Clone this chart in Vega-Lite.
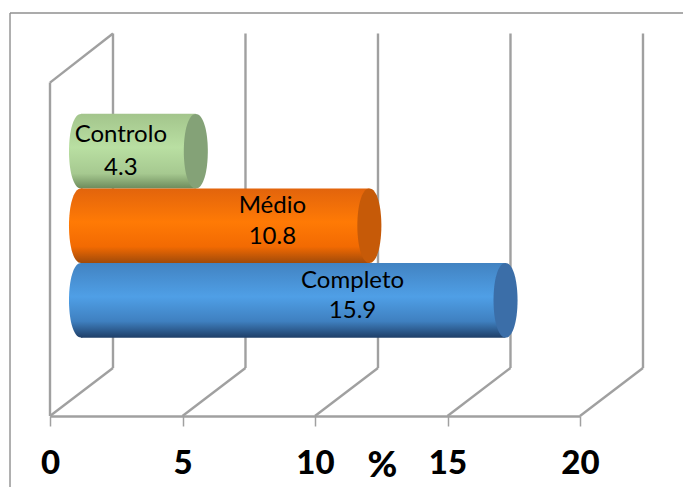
{
  "$schema": "https://vega.github.io/schema/vega-lite/v6.json",
  "width": 530,
  "height": 403,
  "padding": {"left": 50, "top": 13, "right": 103, "bottom": 71},
  "autosize": "none",
  "background": "white",
  "config": {"view": {"stroke": null}, "axisY": {"disable": true}},
  "datasets": {
    "ticks": [{"v": 0}, {"v": 5}, {"v": 10}, {"v": 15}, {"v": 20}],
    "grupos": [
      {"Grupo": "Controlo", "Valor": 4.3, "fila": 2},
      {"Grupo": "Médio", "Valor": 10.8, "fila": 1},
      {"Grupo": "Completo", "Valor": 15.9, "fila": 0}
    ]
  },
  "resolve": {"scale": {"x": "independent"}},
  "layer": [
    {
      "layer": [
        {
          "data": {"name": "ticks"},
          "mark": {"type": "rule", "opacity": 0},
          "encoding": {
            "x": {
              "field": "v",
              "type": "quantitative",
              "scale": {"domain": [0, 20], "nice": false},
              "axis": {
                "values": [0, 5, 10, 15, 20],
                "format": "d",
                "grid": false,
                "domainColor": "#a0a0a0",
                "domainWidth": 2.5,
                "tickColor": "#a0a0a0",
                "tickWidth": 1.5,
                "tickSize": 10,
                "labelFont": "Lato",
                "labelFontWeight": 900,
                "labelFontSize": 33,
                "labelColor": "black",
                "labelPadding": 21,
                "labelFlush": false,
                "labelOverlap": false,
                "title": "%",
                "titleFont": "Lato",
                "titleFontWeight": 900,
                "titleFontSize": 36,
                "titleColor": "black",
                "titleX": 332,
                "titleY": 32
              }
            },
            "y": {"datum": 0, "type": "quantitative", "scale": {"domain": [-1.55, 3.852], "nice": false}}
          }
        },
        {
          "description": "outer chart frame",
          "data": {"values": [{}]},
          "mark": {"type": "rule", "color": "#8f8f8f", "strokeWidth": 1.4},
          "encoding": {
            "x": {"datum": -1.509, "type": "quantitative"},
            "x2": {"datum": 23.89},
            "y": {"datum": 3.852, "type": "quantitative"}
          }
        },
        {
          "data": {"values": [{}]},
          "mark": {"type": "rule", "color": "#8f8f8f", "strokeWidth": 1.4},
          "encoding": {
            "x": {"datum": -1.509, "type": "quantitative"},
            "y": {"datum": 3.852, "type": "quantitative"},
            "y2": {"datum": -2.51}
          }
        },
        {
          "description": "left wall, front edge and top slant",
          "data": {"values": [{}]},
          "mark": {"type": "rule", "color": "#a0a0a0", "strokeWidth": 2.4},
          "encoding": {
            "x": {"datum": 0, "type": "quantitative"},
            "y": {"datum": -1.55, "type": "quantitative"},
            "y2": {"datum": 2.919}
          }
        },
        {
          "data": {"values": [{}]},
          "mark": {"type": "rule", "color": "#a0a0a0", "strokeWidth": 2.4},
          "encoding": {
            "x": {"datum": 0, "type": "quantitative"},
            "x2": {"datum": 2.377},
            "y": {"datum": 2.919, "type": "quantitative"},
            "y2": {"datum": 3.577}
          }
        },
        {
          "description": "back wall gridlines",
          "data": {"name": "ticks"},
          "transform": [{"calculate": "datum.v + 2.377", "as": "fundo"}],
          "mark": {"type": "rule", "color": "#a0a0a0", "strokeWidth": 2.4},
          "encoding": {
            "x": {"field": "fundo", "type": "quantitative"},
            "y": {"datum": -0.906, "type": "quantitative"},
            "y2": {"datum": 3.577}
          }
        },
        {
          "description": "floor slants",
          "data": {"name": "ticks"},
          "transform": [{"calculate": "datum.v + 2.377", "as": "fundo"}],
          "mark": {"type": "rule", "color": "#a0a0a0", "strokeWidth": 2.4},
          "encoding": {
            "x": {"field": "v", "type": "quantitative"},
            "x2": {"field": "fundo"},
            "y": {"datum": -1.55, "type": "quantitative"},
            "y2": {"datum": -0.906}
          }
        }
      ]
    },
    {
      "description": "cylinders: one gradient per group, then the shaded caps and the two-line labels",
      "data": {"name": "grupos"},
      "transform": [
        {"calculate": "datum.fila - 0.5", "as": "base"},
        {"calculate": "datum.fila + 0.5", "as": "topo"},
        {"calculate": "0", "as": "zero"},
        {"calculate": "datum.Grupo + '\\n' + format(datum.Valor, '.1f')", "as": "rotulo"}
      ],
      "encoding": {
        "x": {"field": "Valor", "type": "quantitative", "scale": {"domain": [-1.161, 18.689], "nice": false}, "axis": null},
        "y": {"field": "fila", "type": "quantitative"}
      },
      "layer": [
        {
          "transform": [{"filter": "datum.Grupo === 'Controlo'"}],
          "mark": {"type": "point", "filled": true, "opacity": 1, "size": 5550, "shape": "M0,-1 C-0.43,-1 -0.43,1 0,1 C0.43,1 0.43,-1 0,-1 Z",
            "fill": {"gradient": "linear", "x1": 0, "y1": 0, "x2": 0, "y2": 1, "stops": [{"offset": 0, "color": "#a3c58c"}, {"offset": 0.45, "color": "#b9dfa2"}, {"offset": 0.8, "color": "#a6c990"}, {"offset": 1, "color": "#6d8b5c"}]}},
          "encoding": {"x": {"field": "zero", "type": "quantitative", "axis": null}}
        },
        {
          "transform": [{"filter": "datum.Grupo === 'Controlo'"}],
          "mark": {"type": "rect",
            "fill": {"gradient": "linear", "x1": 0, "y1": 0, "x2": 0, "y2": 1, "stops": [{"offset": 0, "color": "#a3c58c"}, {"offset": 0.45, "color": "#b9dfa2"}, {"offset": 0.8, "color": "#a6c990"}, {"offset": 1, "color": "#6d8b5c"}]}},
          "encoding": {"x": {"field": "zero", "type": "quantitative", "axis": null}, "x2": {"field": "Valor"}, "y": {"field": "base", "type": "quantitative"}, "y2": {"field": "topo"}}
        },
        {
          "transform": [{"filter": "datum.Grupo === 'Controlo'"}],
          "mark": {"type": "point", "filled": true, "opacity": 1, "size": 5550, "shape": "M0,-1 C-0.43,-1 -0.43,1 0,1 C0.43,1 0.43,-1 0,-1 Z", "fill": "#84a277"}
        },
        {
          "transform": [{"filter": "datum.Grupo === 'Médio'"}],
          "mark": {"type": "point", "filled": true, "opacity": 1, "size": 5550, "shape": "M0,-1 C-0.43,-1 -0.43,1 0,1 C0.43,1 0.43,-1 0,-1 Z",
            "fill": {"gradient": "linear", "x1": 0, "y1": 0, "x2": 0, "y2": 1, "stops": [{"offset": 0, "color": "#e2640c"}, {"offset": 0.45, "color": "#ff7a05"}, {"offset": 0.78, "color": "#f26a02"}, {"offset": 1, "color": "#a04a0a"}]}},
          "encoding": {"x": {"field": "zero", "type": "quantitative", "axis": null}}
        },
        {
          "transform": [{"filter": "datum.Grupo === 'Médio'"}],
          "mark": {"type": "rect",
            "fill": {"gradient": "linear", "x1": 0, "y1": 0, "x2": 0, "y2": 1, "stops": [{"offset": 0, "color": "#e2640c"}, {"offset": 0.45, "color": "#ff7a05"}, {"offset": 0.78, "color": "#f26a02"}, {"offset": 1, "color": "#a04a0a"}]}},
          "encoding": {"x": {"field": "zero", "type": "quantitative", "axis": null}, "x2": {"field": "Valor"}, "y": {"field": "base", "type": "quantitative"}, "y2": {"field": "topo"}}
        },
        {
          "transform": [{"filter": "datum.Grupo === 'Médio'"}],
          "mark": {"type": "point", "filled": true, "opacity": 1, "size": 5550, "shape": "M0,-1 C-0.43,-1 -0.43,1 0,1 C0.43,1 0.43,-1 0,-1 Z", "fill": "#c65a08"}
        },
        {
          "transform": [{"filter": "datum.Grupo === 'Completo'"}],
          "mark": {"type": "point", "filled": true, "opacity": 1, "size": 5550, "shape": "M0,-1 C-0.43,-1 -0.43,1 0,1 C0.43,1 0.43,-1 0,-1 Z",
            "fill": {"gradient": "linear", "x1": 0, "y1": 0, "x2": 0, "y2": 1, "stops": [{"offset": 0, "color": "#4283c2"}, {"offset": 0.45, "color": "#4f9fe6"}, {"offset": 0.78, "color": "#3f80c0"}, {"offset": 1, "color": "#1f3f68"}]}},
          "encoding": {"x": {"field": "zero", "type": "quantitative", "axis": null}}
        },
        {
          "transform": [{"filter": "datum.Grupo === 'Completo'"}],
          "mark": {"type": "rect",
            "fill": {"gradient": "linear", "x1": 0, "y1": 0, "x2": 0, "y2": 1, "stops": [{"offset": 0, "color": "#4283c2"}, {"offset": 0.45, "color": "#4f9fe6"}, {"offset": 0.78, "color": "#3f80c0"}, {"offset": 1, "color": "#1f3f68"}]}},
          "encoding": {"x": {"field": "zero", "type": "quantitative", "axis": null}, "x2": {"field": "Valor"}, "y": {"field": "base", "type": "quantitative"}, "y2": {"field": "topo"}}
        },
        {
          "transform": [{"filter": "datum.Grupo === 'Completo'"}],
          "mark": {"type": "point", "filled": true, "opacity": 1, "size": 5550, "shape": "M0,-1 C-0.43,-1 -0.43,1 0,1 C0.43,1 0.43,-1 0,-1 Z", "fill": "#3b6ea8"}
        },
        {
          "transform": [{"filter": "datum.Grupo === 'Controlo'"}],
          "mark": {"type": "text", "font": "Lato", "fontSize": 24, "color": "black", "lineBreak": "\n", "lineHeight": 33, "dx": -75, "dy": -16},
          "encoding": {"text": {"field": "rotulo", "type": "nominal"}}
        },
        {
          "transform": [{"filter": "datum.Grupo === 'Médio'"}],
          "mark": {"type": "text", "font": "Lato", "fontSize": 24, "color": "black", "lineBreak": "\n", "lineHeight": 31, "dx": -97, "dy": -20},
          "encoding": {"text": {"field": "rotulo", "type": "nominal"}}
        },
        {
          "transform": [{"filter": "datum.Grupo === 'Completo'"}],
          "mark": {"type": "text", "font": "Lato", "fontSize": 24, "color": "black", "lineBreak": "\n", "lineHeight": 30, "dx": -153, "dy": -19},
          "encoding": {"text": {"field": "rotulo", "type": "nominal"}}
        }
      ]
    }
  ]
}
